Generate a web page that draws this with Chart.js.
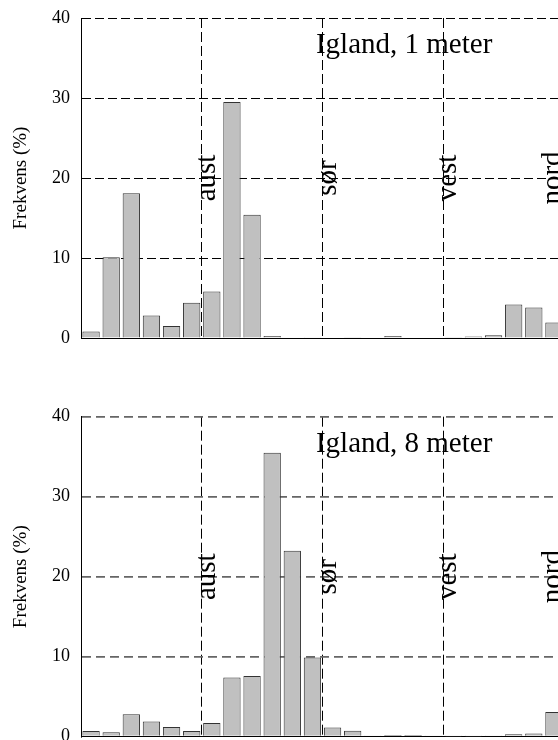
<!DOCTYPE html>
<html>
<head>
<meta charset="utf-8">
<script src="https://cdn.jsdelivr.net/npm/chart.js@4.4.1/dist/chart.umd.min.js"></script>
<style>
  html, body { margin: 0; padding: 0; background: #fff; overflow: hidden; }
  .panel { position: relative; width: 580px; height: 370px; }
</style>
</head>
<body>
<div class="panel"><canvas id="chart1"></canvas></div>
<div class="panel"><canvas id="chart2"></canvas></div>
<script>
// wind direction sectors (start of 15 degree bin)
const sectors = ['0', '15', '30', '45', '60', '75', '90', '105', '120', '135', '150', '165',
  '180', '195', '210', '225', '240', '255', '270', '285', '300', '315', '330', '345'];

// frequency (%) per sector
const freq1m = [0.8, 10.1, 18.1, 2.8, 1.5, 4.4, 5.8, 29.5, 15.4, 0.25, 0.05, 0.03,
  0.05, 0.08, 0.05, 0.25, 0.05, 0.05, 0.08, 0.2, 0.35, 4.2, 3.8, 1.95];
const freq8m = [0.7, 0.55, 2.8, 1.9, 1.2, 0.7, 1.7, 7.4, 7.6, 35.5, 23.25, 9.9,
  1.15, 0.75, 0.1, 0.2, 0.2, 0.1, 0.03, 0.03, 0.05, 0.3, 0.4, 3.1];

const yTicks = [0, 10, 20, 30, 40];
const directions = ['aust', 'sør', 'vest', 'nord'];
const directionDeg = [90, 180, 270, 360];
const panelTitles = ['Igland, 1 meter', 'Igland, 8 meter'];

const serif = '"Liberation Serif", "Times New Roman", serif';

const labelPlugin = {
  id: 'labels',
  afterDatasetsDraw(chart, args, opts) {
    const ctx = chart.ctx;
    const area = chart.chartArea;
    const y = chart.scales.y;
    ctx.save();
    ctx.fillStyle = '#000';
    ctx.font = '29px ' + serif;
    ctx.textAlign = 'center';
    ctx.textBaseline = 'alphabetic';
    // panel title
    ctx.fillText(opts.title, area.left + 0.669 * area.width, area.top + 35);
    // compass labels beside the direction lines
    directions.forEach((name, i) => {
      const lineX = area.left + directionDeg[i] / 360 * area.width;
      const x = Math.min(lineX + 13, area.right - 3);
      ctx.save();
      ctx.translate(x, y.getPixelForValue(20));
      ctx.rotate(-Math.PI / 2);
      ctx.fillText(name, 0, 0);
      ctx.restore();
    });
    ctx.restore();
  }
};

const makeChart = (id, values, title, pad, hGrid) => {
  const elem = document.getElementById(id);
  return new Chart(elem, {
    type: 'bar',
    data: {
      labels: sectors,
      datasets: [{
        data: values,
        backgroundColor: '#c0c0c0',
        borderColor: '#333',
        borderWidth: 1,
        barPercentage: 0.86,
        categoryPercentage: 1.0
      }]
    },
    options: {
      responsive: true,
      maintainAspectRatio: false,
      animation: false,
      devicePixelRatio: 1,
      layout: { padding: pad },
      plugins: {
        legend: { display: false },
        tooltip: { enabled: false },
        labels: { title }
      },
      scales: {
        x: {
          grid: {
            offset: true,
            drawTicks: false,
            color: (c) => (c.index === undefined || (c.index > 0 && c.index % 6 === 0)) ? '#000' : 'rgba(0,0,0,0)',
            lineWidth: 1
          },
          border: { display: true, color: '#000', width: 1, dash: [10, 4] },
          ticks: { display: false },
          afterFit: (s) => { s.height = 0; }
        },
        y: {
          min: yTicks[0],
          max: yTicks[yTicks.length - 1],
          afterBuildTicks: (s) => { s.ticks = yTicks.map((v) => ({ value: v })); },
          grid: {
            drawTicks: false,
            color: (c) => (c.tick && c.tick.value === 0) ? 'rgba(0,0,0,0)' : hGrid.color,
            lineWidth: hGrid.width
          },
          border: { display: true, color: '#000', width: 1, dash: hGrid.dash },
          ticks: {
            padding: 11,
            color: '#000',
            font: { family: serif, size: 18 }
          },
          title: {
            display: true,
            text: 'Frekvens (%)',
            color: '#000',
            font: { family: serif, size: 19 },
            padding: { top: 10, bottom: 0 }
          },
          afterFit: (s) => {
            s.width = 81;
            s.paddingTop = 0;
            s.paddingBottom = 0;
          }
        }
      }
    },
    plugins: [labelPlugin]
  });
};

makeChart('chart1', freq1m, panelTitles[0], { left: 0, top: 18, right: 16, bottom: 32 },
  { color: '#000', width: 1, dash: [9, 4] });
makeChart('chart2', freq8m, panelTitles[1], { left: 0, top: 46.7, right: 16, bottom: 3.3 },
  { color: '#666', width: 1.7, dash: [9, 5] });
</script>
</body>
</html>
